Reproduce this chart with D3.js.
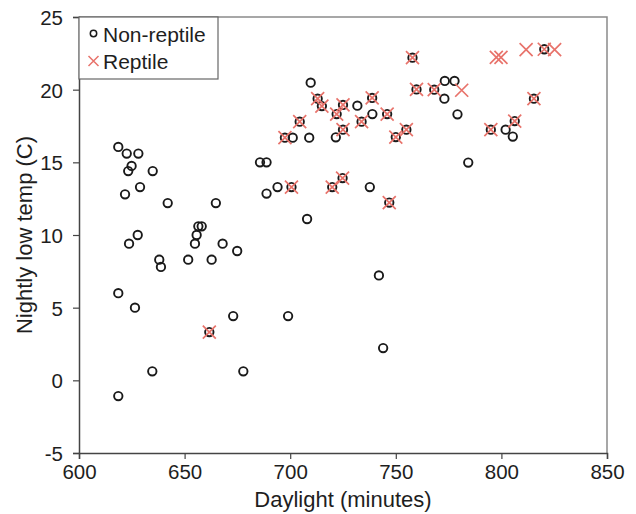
<!DOCTYPE html>
<html>
<head>
<meta charset="utf-8">
<script src="https://cdn.jsdelivr.net/npm/d3@7"></script>
<style>
  body { margin: 0; background: #fff; }
  text { font-family: "Liberation Sans", Arial, sans-serif; fill: #1e1e1e; }
</style>
</head>
<body>
<div id="chart"></div>
<script>
'use strict';

// circles (every point drawn as an open circle)
var circleX = [618.6, 622.6, 628.1, 624.9, 623.3, 634.9, 621.8, 628.9, 642, 664.8,
    623.7, 627.8, 656.5, 658.1, 655.7, 654.9, 668, 674.9, 638, 638.8,
    651.7, 662.8, 618.6, 626.5, 673, 699, 634.7, 677.8, 618.6, 661.7,
    685.7, 688.8, 688.8, 694, 700.6, 697.5, 701.2, 709, 704.5, 709.7,
    708, 713, 715, 725, 731.8, 738.8, 722, 738.9, 745.9, 733.8,
    725, 721.6, 750, 755, 759.8, 757.9, 768.2, 773.2, 777.8, 773,
    779.2, 784.3, 795, 802, 805.4, 806.3, 815.4, 820.3, 724.8, 719.9,
    737.7, 746.9, 742, 744];
var circleY = [16.06, 15.6, 15.6, 14.75, 14.4, 14.4, 12.8, 13.3, 12.2, 12.2,
    9.4, 10, 10.6, 10.6, 10, 9.4, 9.4, 8.9, 8.3, 7.8,
    8.3, 8.3, 6.0, 5.0, 4.42, 4.42, 0.62, 0.62, -1.08, 3.32,
    15, 15, 12.85, 13.3, 13.3, 16.7, 16.7, 16.7, 17.8, 20.48,
    11.1, 19.38, 18.87, 18.95, 18.9, 19.43, 18.32, 18.32, 18.32, 17.8,
    17.25, 16.72, 16.74, 17.25, 20.02, 22.2, 20.0, 20.6, 20.6, 19.38,
    18.3, 14.98, 17.25, 17.25, 16.77, 17.84, 19.38, 22.78, 13.92, 13.3,
    13.3, 12.23, 7.22, 2.22];

// reptile crosses
var crossX = [661.7, 697.5, 700.6, 704.5, 713, 715, 725, 738.8, 722, 745.9,
    733.8, 725, 750, 755, 759.8, 757.9, 768.2, 781.2, 797.6, 799.8,
    811.7, 820.3, 825.2, 795, 806.3, 815.4, 724.8, 719.9, 746.9];
var crossY = [3.32, 16.7, 13.3, 17.8, 19.38, 18.87, 18.95, 19.43, 18.32, 18.32,
    17.8, 17.25, 16.74, 17.25, 20.02, 22.2, 20.0, 19.96, 22.22, 22.22,
    22.75, 22.78, 22.75, 17.25, 17.84, 19.38, 13.92, 13.3, 12.23];

var xTicks = [600, 650, 700, 750, 800, 850];
var yTicks = [-5, 0, 5, 10, 15, 20, 25];
var legendLabels = ['Non-reptile', 'Reptile'];

var width = 636, height = 514;
var margin = { top: 17, right: 29, bottom: 61, left: 79 };
var w = width - margin.left - margin.right;
var h = height - margin.top - margin.bottom;
var crossColor = '#e8736b';

var svg = d3.select('#chart')
    .append('svg')
    .attr('width', width)
    .attr('height', height);

var g = svg.append('g')
    .attr('transform', 'translate(' + margin.left + ',' + margin.top + ')');

var x = d3.scaleLinear().domain([600, 850]).range([0, w]);
var y = d3.scaleLinear().domain([-5, 25]).range([h, 0]);

// frame top / right
g.append('path')
    .attr('d', 'M0,0H' + w + 'V' + h)
    .attr('fill', 'none')
    .attr('stroke', '#8a8a8a')
    .attr('stroke-width', 1.5);

var xAxis = g.append('g')
    .attr('transform', 'translate(0,' + h + ')')
    .call(d3.axisBottom(x).tickValues(xTicks).tickFormat(String).tickSize(6).tickPadding(5));
var yAxis = g.append('g')
    .call(d3.axisLeft(y).tickValues(yTicks).tickFormat(String).tickSize(6).tickPadding(10));

[xAxis, yAxis].forEach(function (a) {
    a.select('.domain').attr('stroke', '#444').attr('stroke-width', 1.5);
    a.selectAll('.tick line').attr('stroke', '#444').attr('stroke-width', 1.2);
    a.selectAll('.tick text')
        .style('font-family', '"Liberation Sans", Arial, sans-serif')
        .style('font-size', '20.5px')
        .attr('fill', '#1e1e1e');
});
yAxis.selectAll('.tick text').attr('dy', '0.36em');

// axis titles
svg.append('text')
    .attr('x', margin.left + w / 2)
    .attr('y', 507)
    .attr('text-anchor', 'middle')
    .style('font-size', '22px')
    .text('Daylight (minutes)');

svg.append('text')
    .attr('transform', 'translate(32,' + (margin.top + h / 2) + ') rotate(-90)')
    .attr('text-anchor', 'middle')
    .style('font-size', '22px')
    .text('Nightly low temp (C)');

// points
var circles = circleX.map(function (v, i) { return { x: v, y: circleY[i] }; });
var crosses = crossX.map(function (v, i) { return { x: v, y: crossY[i] }; });

g.selectAll('.pt')
    .data(circles)
    .enter()
    .append('circle')
    .attr('class', 'pt')
    .attr('cx', function (d) { return x(d.x); })
    .attr('cy', function (d) { return y(d.y); })
    .attr('r', 4.2)
    .attr('fill', 'none')
    .attr('stroke', '#1a1a1a')
    .attr('stroke-width', 1.9);

var cs = 6.5;
g.selectAll('.cross')
    .data(crosses)
    .enter()
    .append('path')
    .attr('class', 'cross')
    .attr('d', function (d) {
        var cx = x(d.x), cy = y(d.y);
        return 'M' + (cx - cs) + ',' + (cy - cs) + 'L' + (cx + cs) + ',' + (cy + cs) +
            'M' + (cx - cs) + ',' + (cy + cs) + 'L' + (cx + cs) + ',' + (cy - cs);
    })
    .attr('stroke', crossColor)
    .attr('stroke-width', 1.7)
    .attr('fill', 'none');

// legend
var legend = g.append('g');
legend.append('rect')
    .attr('x', 0)
    .attr('y', 0)
    .attr('width', 139)
    .attr('height', 62)
    .attr('fill', '#fff')
    .attr('stroke', '#666')
    .attr('stroke-width', 1.2);

legend.append('circle')
    .attr('cx', 14.5)
    .attr('cy', 16.5)
    .attr('r', 3.2)
    .attr('fill', 'none')
    .attr('stroke', '#1a1a1a')
    .attr('stroke-width', 1.5);

var ls = 5;
legend.append('path')
    .attr('d', 'M' + (14.5 - ls) + ',' + (44 - ls) + 'L' + (14.5 + ls) + ',' + (44 + ls) +
        'M' + (14.5 - ls) + ',' + (44 + ls) + 'L' + (14.5 + ls) + ',' + (44 - ls))
    .attr('stroke', crossColor)
    .attr('stroke-width', 1.5);

legend.selectAll('.ltxt')
    .data(legendLabels)
    .enter()
    .append('text')
    .attr('class', 'ltxt')
    .attr('x', 24)
    .attr('y', function (d, i) { return 24.5 + i * 27.5; })
    .style('font-size', '21px')
    .text(function (d) { return d; });
</script>
</body>
</html>
